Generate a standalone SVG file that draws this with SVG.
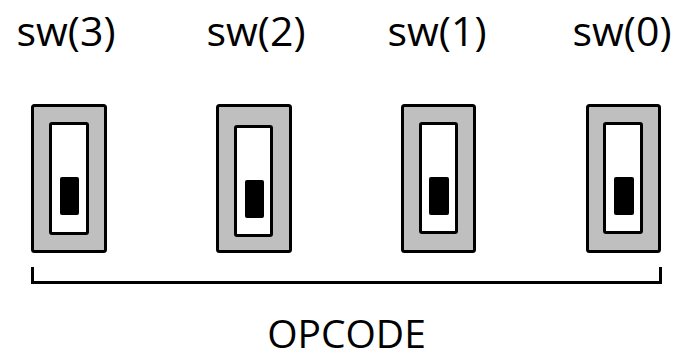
<svg xmlns="http://www.w3.org/2000/svg" width="680" height="360" viewBox="0 0 680 360">
  <style>
    .label { font-family: "Open Sans", "Liberation Sans", sans-serif; font-size: 41px; fill: #000; text-anchor: middle; }
    .case { fill: #bfbfbf; stroke: #000; stroke-width: 3; }
    .slot { fill: #fff; stroke: #000; stroke-width: 3; }
    .lever { fill: #000; }
    .brace { fill: none; stroke: #000; stroke-width: 3; }
  </style>
  <rect width="680" height="360" fill="#fff"/>

  <g id="sw3">
    <text class="label" x="66" y="46">sw(3)</text>
    <rect class="case" x="32.5" y="105.5" width="73" height="146" rx="2"/>
    <rect class="slot" x="50.5" y="123.5" width="37" height="110" rx="1.5"/>
    <rect class="lever" x="60" y="177" width="19" height="38" rx="2"/>
  </g>

  <g id="sw2">
    <text class="label" x="256" y="46">sw(2)</text>
    <rect class="case" x="217.5" y="105.5" width="73" height="146" rx="2"/>
    <rect class="slot" x="235.5" y="126.5" width="36" height="109" rx="1.5"/>
    <rect class="lever" x="245" y="180" width="19" height="38" rx="2"/>
  </g>

  <g id="sw1">
    <text class="label" x="437" y="46">sw(1)</text>
    <rect class="case" x="402.5" y="105.5" width="72" height="146" rx="2"/>
    <rect class="slot" x="420.5" y="123.5" width="36" height="109" rx="1.5"/>
    <rect class="lever" x="429" y="177" width="20" height="38" rx="2"/>
  </g>

  <g id="sw0">
    <text class="label" x="622" y="46">sw(0)</text>
    <rect class="case" x="587.5" y="105.5" width="72" height="146" rx="2"/>
    <rect class="slot" x="604.5" y="123.5" width="37" height="109" rx="1.5"/>
    <rect class="lever" x="614" y="177" width="20" height="38" rx="2"/>
  </g>

  <g id="connectors">
    <path class="brace" d="M32.5 267 V282.5 H660.5 V267"/>
  </g>

  <g id="opcode">
    <text class="label" x="346.5" y="348" style="font-size:39px">OPCODE</text>
  </g>
</svg>
